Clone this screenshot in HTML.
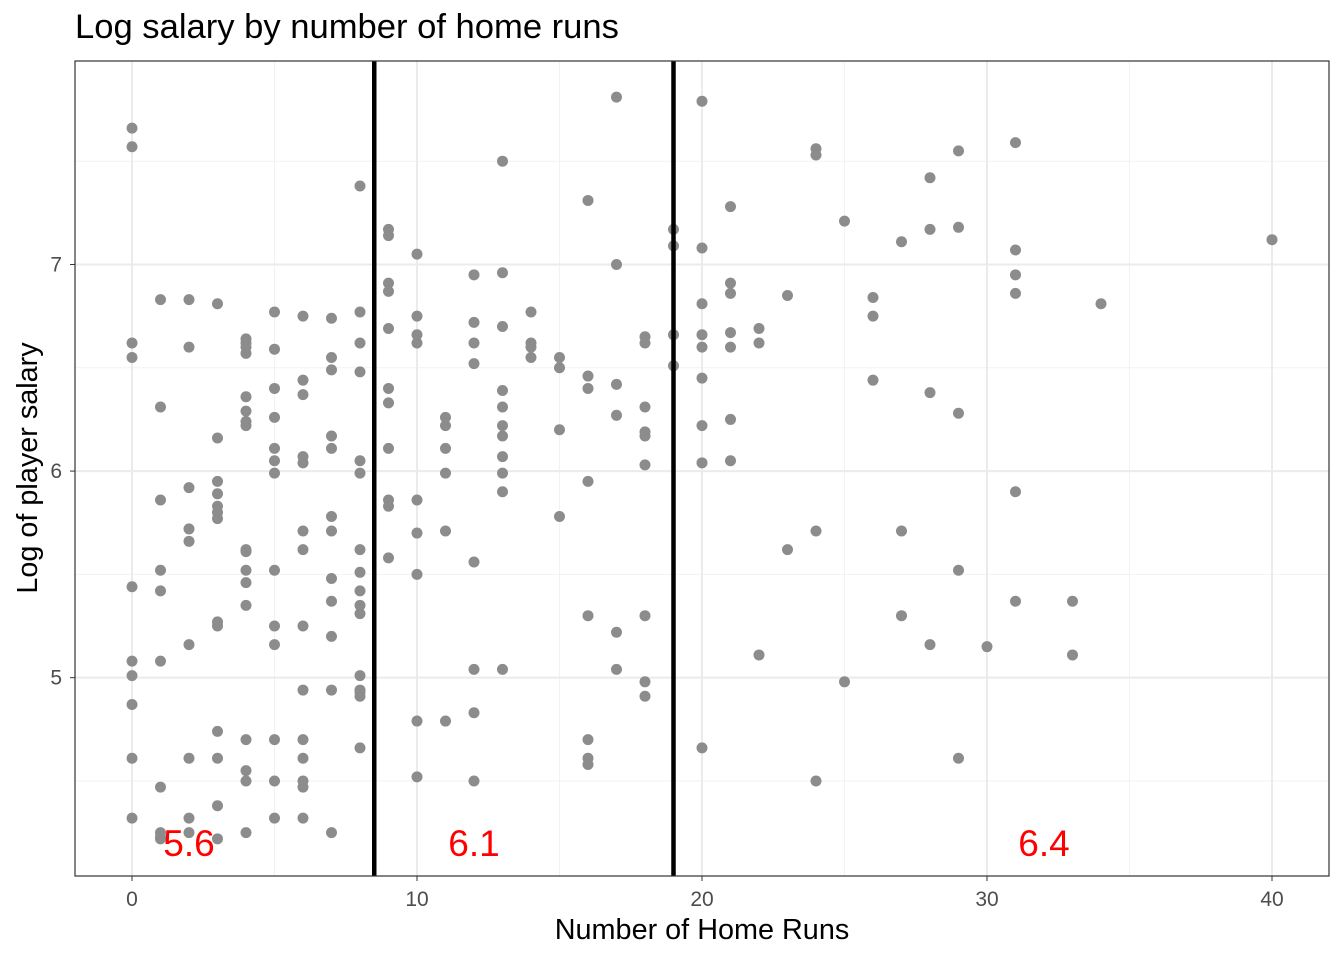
<!DOCTYPE html>
<html><head><meta charset="utf-8"><style>
html,body{margin:0;padding:0;background:#fff;}
svg{display:block;font-family:"Liberation Sans",sans-serif;}
</style></head><body>
<svg id="chart" width="1344" height="960">
<text x="75" y="38" font-size="34.6" fill="#000">Log salary by number of home runs</text>
<text x="702" y="939" font-size="28.8" text-anchor="middle" fill="#000">Number of Home Runs</text>
<text x="0" y="0" font-size="28.8" text-anchor="middle" fill="#000" transform="translate(37,468) rotate(-90)">Log of player salary</text>
</svg>
<script>
const groupHR=[0,1,2,3,4,5,6,7,8,9,10,11,12,13,14,15,16,17,18,19,20,21,22,23,24,25,26,27,28,29,30,31,33,34,40];
const groupSalary=[
[7.66,7.57,6.62,6.55,5.44,5.08,5.01,4.87,4.61,4.32],
[6.83,6.31,5.86,5.52,5.42,5.08,4.47,4.25,4.23,4.22],
[6.83,6.60,5.92,5.72,5.66,5.16,4.61,4.32,4.25],
[6.81,6.16,5.95,5.89,5.83,5.80,5.77,5.27,5.25,4.74,4.61,4.38,4.22],
[6.64,6.62,6.60,6.57,6.36,6.29,6.24,6.22,5.62,5.61,5.52,5.46,5.35,4.70,4.55,4.50,4.25],
[6.77,6.59,6.40,6.26,6.11,6.05,5.99,5.52,5.25,5.16,4.70,4.50,4.32],
[6.75,6.44,6.37,6.07,6.04,5.71,5.62,5.25,4.94,4.70,4.61,4.50,4.47,4.32],
[6.74,6.55,6.49,6.17,6.11,5.78,5.71,5.48,5.37,5.20,4.94,4.25],
[7.38,6.77,6.62,6.48,6.05,5.99,5.62,5.51,5.42,5.35,5.31,5.01,4.94,4.93,4.91,4.66],
[7.17,7.14,6.91,6.87,6.69,6.40,6.33,6.11,5.86,5.83,5.58],
[7.05,6.75,6.66,6.62,5.86,5.70,5.50,4.79,4.52],
[6.26,6.22,6.11,5.99,5.71,4.79],
[6.95,6.72,6.62,6.52,5.56,5.04,4.83,4.50],
[7.50,6.96,6.70,6.39,6.31,6.22,6.17,6.07,5.99,5.90,5.04],
[6.77,6.62,6.60,6.55],
[6.55,6.50,6.20,5.78],
[7.31,6.46,6.40,5.95,5.30,4.70,4.61,4.58],
[7.81,7.00,6.42,6.27,5.22,5.04],
[6.65,6.62,6.31,6.19,6.17,6.03,5.30,4.98,4.91],
[7.17,7.09,6.66,6.51],
[7.79,7.08,6.81,6.66,6.60,6.45,6.22,6.04,4.66],
[7.28,6.91,6.86,6.67,6.60,6.25,6.05],
[6.69,6.62,5.11],
[6.85,5.62],
[7.56,7.53,5.71,4.50],
[7.21,4.98],
[6.84,6.75,6.44],
[7.11,5.71,5.30],
[7.42,7.17,6.38,5.16],
[7.55,7.18,6.28,5.52,4.61],
[5.15],
[7.59,7.07,6.95,6.86,5.90,5.37],
[5.37,5.11],
[6.81],
[7.12]];
const xTicks=[0,10,20,30,40];
const yTicks=[5,6,7];
const xMinor=[5,15,25,35];
const yMinor=[4.5,5.5,6.5,7.5];
const splits=[8.5,19];
const leafX=[2,12,32];
const leafLabels=["5.6","6.1","6.4"];
const leafY=4.17;

const L=75,R=1329,T=61,B=876;
const xMin=-2,xMax=42,yMin=4.04,yMax=7.985;
const sx=v=>L+(v-xMin)/(xMax-xMin)*(R-L);
const sy=v=>B-(v-yMin)/(yMax-yMin)*(B-T);
const svg=document.getElementById('chart');
const NS='http://www.w3.org/2000/svg';
function mk(t,a){const e=document.createElementNS(NS,t);for(const k in a)e.setAttribute(k,a[k]);svg.appendChild(e);return e;}

xMinor.forEach(v=>{const e=mk('line',{x1:sx(v),x2:sx(v),y1:T,y2:B,stroke:'#f2f2f2','stroke-width':1});

});
yMinor.forEach(v=>{const e=mk('line',{x1:L,x2:R,y1:sy(v),y2:sy(v),stroke:'#f2f2f2','stroke-width':1});

});
xTicks.forEach(v=>{const e=mk('line',{x1:sx(v),x2:sx(v),y1:T,y2:B,stroke:'#ebebeb','stroke-width':2});


const t=mk('line',{x1:sx(v),x2:sx(v),y1:B,y2:B+5,stroke:'#333','stroke-width':1});


const l=mk('text',{x:sx(v),y:B+30,'font-size':21,fill:'#4d4d4d','text-anchor':'middle'});l.textContent=v;

});
yTicks.forEach(v=>{const e=mk('line',{x1:L,x2:R,y1:sy(v),y2:sy(v),stroke:'#ebebeb','stroke-width':2});


const t=mk('line',{x1:L-5,x2:L,y1:sy(v),y2:sy(v),stroke:'#333','stroke-width':1});


const l=mk('text',{x:L-13,y:sy(v)+7,'font-size':21,fill:'#4d4d4d','text-anchor':'end'});l.textContent=v;

});

groupHR.forEach((hr,i)=>{groupSalary[i].forEach(s=>{
const c=mk('circle',{cx:sx(hr),cy:sy(s),r:5.5,fill:'#8c8c8c'});

});});

splits.forEach(v=>{const e=mk('line',{x1:sx(v),x2:sx(v),y1:T,y2:B,stroke:'#000','stroke-width':4.5});

});
leafX.forEach((v,i)=>{const l=mk('text',{x:sx(v),y:sy(leafY)+7,'font-size':37,fill:'#ff0000','text-anchor':'middle'});l.textContent=leafLabels[i];

});

const f=mk('rect',{x:L,y:T,width:R-L,height:B-T,fill:'none',stroke:'#333','stroke-width':1.2});


</script>
</body></html>
